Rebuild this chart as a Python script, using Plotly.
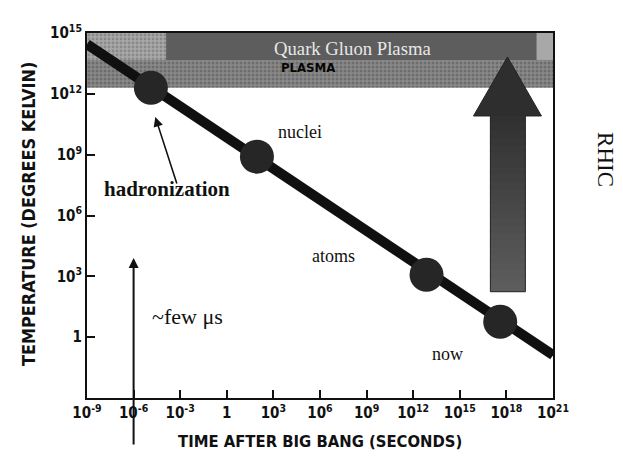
import math
import plotly.graph_objects as go

# ---------------- data ----------------
line_time = [1e-9, 1e21]            # seconds
line_temp = [2.8e14, 0.13]          # kelvin

event_names = ["hadronization", "nuclei", "atoms", "now"]
event_time = [1.3e-5, 87.0, 7.2e12, 4.0e17]
event_temp = [2.0e12, 8.0e8, 1.2e3, 5.8]

x_tickvals = [1e-9, 1e-6, 1e-3, 1, 1e3, 1e6, 1e9, 1e12, 1e15, 1e18, 1e21]
x_ticktext = ["10<sup>-9</sup>", "10<sup>-6</sup>", "10<sup>-3</sup>", "1",
              "10<sup>3</sup>", "10<sup>6</sup>", "10<sup>9</sup>",
              "10<sup>12</sup>", "10<sup>15</sup>", "10<sup>18</sup>",
              "10<sup>21</sup>"]
y_tickvals = [1, 1e3, 1e6, 1e9, 1e12, 1e15]
y_ticktext = ["1", "10<sup>3</sup>", "10<sup>6</sup>", "10<sup>9</sup>",
              "10<sup>12</sup>", "10<sup>15</sup>"]

# quark gluon plasma band (time span, temperature span)
qgp_time = [1e-9, 1e21]
qgp_temp = [2.0e12, 1e15]
qgp_label_time = [1.26e-4, 8.5e19]
qgp_label_temp = [4.7e13, 1e15]

# RHIC arrow (time / temperature of its outline)
rhic_shaft_time = [9.3e16, 1.66e19]
rhic_head_time = [7.6e15, 1.8e20]
rhic_tip_time = 1.17e18
rhic_temp = [174.0, 8.1e10, 6.6e13]   # bottom, head base, tip

SERIF = "Liberation Serif, Times New Roman, serif"
COND = "DejaVu Sans Condensed, Liberation Sans Narrow, Arial Narrow, sans-serif"


def rect(x0, x1, y0, y1):
    return [x0, x1, x1, x0, x0], [y0, y0, y1, y1, y0]


def area(fig, xs, ys, color, pattern=None, line=None):
    fig.add_trace(go.Scatter(x=xs, y=ys, mode="lines", fill="toself",
                             line=line or dict(width=0), fillcolor=color,
                             fillpattern=pattern, hoverinfo="skip",
                             showlegend=False))


fig = go.Figure()

# band: speckled grey
bx, by = rect(qgp_time[0], qgp_time[1], qgp_temp[0], qgp_temp[1])
area(fig, bx, by, "#7c7c7c",
     dict(shape=".", bgcolor="#8a8a8a", fgcolor="#4d4d4d", size=4, solidity=0.45))
# lighter upper-left part
lx, ly = rect(qgp_time[0], qgp_label_time[0], qgp_label_temp[0], qgp_label_temp[1])
area(fig, lx, ly, "#a0a0a0",
     dict(shape=".", bgcolor="#a8a8a8", fgcolor="#6a6a6a", size=4, solidity=0.4))
# lighter upper-right strip
rx, ry = rect(qgp_label_time[1], qgp_time[1], qgp_label_temp[0], qgp_label_temp[1])
area(fig, rx, ry, "#a8a8a8")
# dark label panel
dx, dy = rect(qgp_label_time[0], qgp_label_time[1], qgp_label_temp[0], qgp_label_temp[1])
area(fig, dx, dy, "#5d5d5d")

# RHIC arrow with vertical gradient (strips overlap to avoid seams)
n = 24
lb, lt = math.log10(rhic_temp[0]), math.log10(rhic_temp[1])
c_bot, c_top = 0x5e, 0x30
for i in range(n):
    y0 = 10 ** (lb + (lt - lb) * i / n)
    y1 = 10 ** min(lt, lb + (lt - lb) * (i + 1.6) / n)
    c = int(round(c_bot + (c_top - c_bot) * (i + 0.5) / n))
    col = "#%02x%02x%02x" % (c, c, c)
    sx, sy = rect(rhic_shaft_time[0], rhic_shaft_time[1], y0, y1)
    area(fig, sx, sy, col)
hx = [rhic_head_time[0], rhic_head_time[1], rhic_tip_time, rhic_head_time[0]]
hy = [rhic_temp[1], rhic_temp[1], rhic_temp[2], rhic_temp[1]]
area(fig, hx, hy, "#2e2e2e")
fig.add_trace(go.Scatter(
    x=[rhic_shaft_time[0], rhic_shaft_time[1], rhic_shaft_time[1], rhic_head_time[1],
       rhic_tip_time, rhic_head_time[0], rhic_shaft_time[0], rhic_shaft_time[0]],
    y=[rhic_temp[0], rhic_temp[0], rhic_temp[1], rhic_temp[1], rhic_temp[2],
       rhic_temp[1], rhic_temp[1], rhic_temp[0]],
    mode="lines", line=dict(color="#222222", width=1), hoverinfo="skip",
    showlegend=False))

# cooling line
fig.add_trace(go.Scatter(x=line_time, y=line_temp, mode="lines",
                         line=dict(color="#101010", width=10),
                         hoverinfo="skip", showlegend=False))
# events
fig.add_trace(go.Scatter(x=event_time, y=event_temp, mode="markers",
                         marker=dict(size=34, color="#262626", line=dict(width=0)),
                         text=event_names, showlegend=False))


def lg(v):
    return math.log10(v)


ann = []
ann.append(dict(x=lg(1.3e8), y=lg(1.8e14), xref="x", yref="y", text="Quark Gluon Plasma",
                showarrow=False, font=dict(family=SERIF, size=18.7, color="#e8e8e8")))
ann.append(dict(x=lg(1.7e5), y=lg(1.9e13), xref="x", yref="y", text="<b>PLASMA</b>",
                showarrow=False, font=dict(family=COND, size=13, color="#050505")))
ann.append(dict(x=lg(5e4), y=lg(1.3e10), xref="x", yref="y", text="nuclei",
                showarrow=False, font=dict(family=SERIF, size=18, color="#111")))
ann.append(dict(x=lg(1.45e-4), y=lg(2.1e7), xref="x", yref="y", text="<b>hadronization</b>",
                showarrow=False, font=dict(family=SERIF, size=21, color="#111")))
ann.append(dict(x=lg(7.6e6), y=lg(1.0e4), xref="x", yref="y", text="atoms",
                showarrow=False, font=dict(family=SERIF, size=18, color="#111")))
ann.append(dict(x=lg(1.55e14), y=lg(0.14), xref="x", yref="y", text="now",
                showarrow=False, font=dict(family=SERIF, size=18, color="#111")))
ann.append(dict(x=lg(3.0e-3), y=lg(10.7), xref="x", yref="y", text="~few μs",
                showarrow=False, font=dict(family=SERIF, size=22, color="#111")))
# arrows
ann.append(dict(x=lg(2.5e-5), y=lg(7.2e10), xref="x", yref="y", text="",
                showarrow=True, arrowhead=2, arrowsize=1.2, arrowwidth=1.6,
                arrowcolor="#111", ax=22, ay=68, standoff=0))
ann.append(dict(x=-6, y=lg(8.0e3), xref="x", yref="y", text="",
                showarrow=True, arrowhead=2, arrowsize=1, arrowwidth=2,
                arrowcolor="#111", ax=0, ay=188, standoff=0))
# titles
ann.append(dict(x=0.5, y=-0.1205, xref="paper", yref="paper",
                xanchor="center", yanchor="middle",
                text="<b>TIME AFTER BIG BANG (SECONDS)</b>", showarrow=False,
                font=dict(family=COND, size=16.5, color="#111")))
ann.append(dict(x=-0.1266, y=0.504, xref="paper", yref="paper", textangle=-90,
                xanchor="center", yanchor="middle",
                text="<b>TEMPERATURE (DEGREES KELVIN)</b>", showarrow=False,
                font=dict(family=COND, size=17.9, color="#111")))
ann.append(dict(x=1.1137, y=0.652, xref="paper", yref="paper", textangle=90,
                xanchor="center", yanchor="middle",
                text="RHIC", showarrow=False,
                font=dict(family=SERIF, size=23, color="#111")))

axis_common = dict(type="log", tickmode="array", ticks="inside", ticklen=8,
                   tickwidth=2, tickcolor="#111", showgrid=False, zeroline=False,
                   showline=True, linecolor="#111", linewidth=2, mirror=True,
                   tickfont=dict(family=COND, size=15, color="#111", weight="bold"))

# page body has an 8px default margin: figure is sized so it fits the window
fig.update_layout(
    width=615, height=453,
    margin=dict(l=79, r=70, t=25, b=63),
    paper_bgcolor="white", plot_bgcolor="white",
    annotations=ann,
    xaxis=dict(range=[-9, 21], tickvals=x_tickvals, ticktext=x_ticktext, **axis_common),
    yaxis=dict(range=[-3, 15], tickvals=y_tickvals, ticktext=y_ticktext, **axis_common),
)

fig.write_html("out.html")
